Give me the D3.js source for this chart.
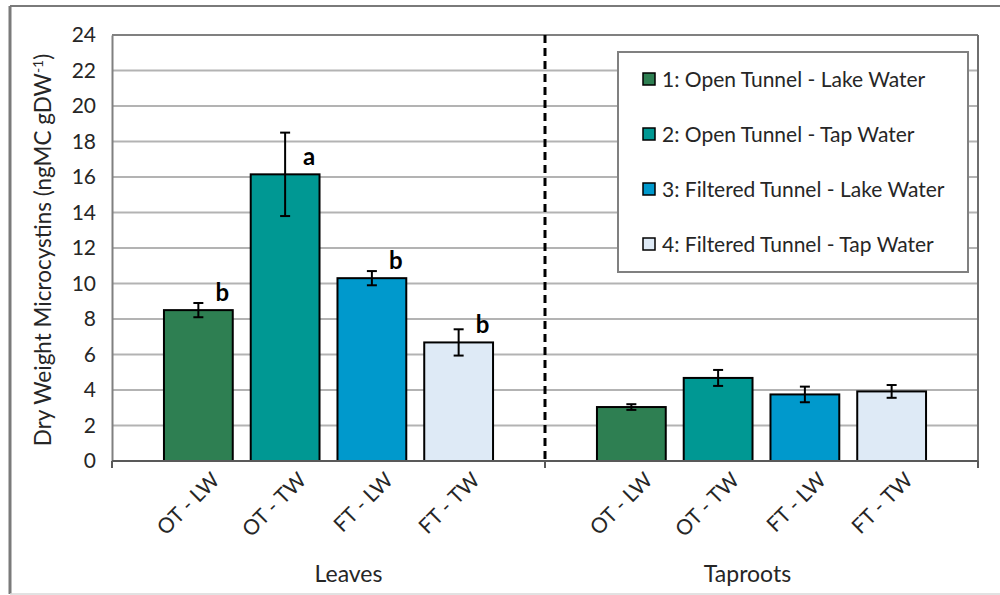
<!DOCTYPE html>
<html>
<head>
<meta charset="utf-8">
<script src="https://cdn.jsdelivr.net/npm/d3@7"></script>
<style>
  body { margin: 0; background: #fff; }
  svg { display: block; font-family: Lato, "Open Sans", sans-serif; }
</style>
</head>
<body>
<div id="chart"></div>
<script>
// --- Data ---
const categories = ["Leaves", "Taproots"];
const seriesNames = [
  "1: Open Tunnel - Lake Water",
  "2: Open Tunnel - Tap Water",
  "3: Filtered Tunnel - Lake Water",
  "4: Filtered Tunnel - Tap Water"
];
const tickLabels = ["OT - LW", "OT - TW", "FT - LW", "FT - TW"];
const leavesMeans = [8.5, 16.15, 10.3, 6.68];
const leavesErr = [0.4, 2.35, 0.4, 0.74];
const taprootMeans = [3.04, 4.68, 3.75, 3.92];
const taprootErr = [0.16, 0.45, 0.44, 0.36];
const leavesLetters = ["b", "a", "b", "b"];
const taprootLetters = ["", "", "", ""];
const yTicks = [0, 2, 4, 6, 8, 10, 12, 14, 16, 18, 20, 22, 24];
const colors = ["#2e7f52", "#009893", "#0099cc", "#deeaf6"];

const W = 1000, H = 595;
const margin = {top: 35, right: 22, bottom: 134, left: 112};

const svg = d3.select("#chart").append("svg")
    .attr("width", W).attr("height", H);

// outer frame
svg.append("line").attr("x1", 10).attr("x2", W).attr("y1", 6).attr("y2", 6)
    .attr("stroke", "#7a7a7a").attr("stroke-width", 2);
svg.append("line").attr("x1", 10).attr("x2", 10).attr("y1", 6).attr("y2", 594)
    .attr("stroke", "#7a7a7a").attr("stroke-width", 3);
svg.append("line").attr("x1", 10).attr("x2", W).attr("y1", 594).attr("y2", 594)
    .attr("stroke", "#d9d9d9").attr("stroke-width", 1.5);

const innerW = W - margin.left - margin.right;
const innerH = H - margin.top - margin.bottom;

const g = svg.append("g").attr("transform", `translate(${margin.left},${margin.top})`);

const y = d3.scaleLinear().domain([0, 24]).range([innerH, 0]);
const x0 = d3.scaleBand().domain(categories).range([0, innerW]).padding(0);
const groupPad = x0.bandwidth() * 0.12;
const x1 = d3.scaleBand().domain(d3.range(4)).range([groupPad, x0.bandwidth() - groupPad]).paddingInner(0.207);

// gridlines
g.append("g").selectAll("line").data(yTicks.filter(t => t > 0 && t < 24)).join("line")
    .attr("x1", 0).attr("x2", innerW)
    .attr("y1", d => y(d)).attr("y2", d => y(d))
    .attr("stroke", "#b3b3b3").attr("stroke-width", 2);

// top and right border of plot area
g.append("line").attr("x1", 0).attr("x2", innerW).attr("y1", y(24)).attr("y2", y(24))
    .attr("stroke", "#808080").attr("stroke-width", 2);
g.append("line").attr("x1", innerW).attr("x2", innerW).attr("y1", y(24)).attr("y2", innerH)
    .attr("stroke", "#6e6e6e").attr("stroke-width", 2);

// y axis
const yAxis = g.append("g").call(d3.axisLeft(y).tickValues(yTicks).tickSize(0).tickPadding(16));
yAxis.select(".domain").attr("stroke", "#808080").attr("stroke-width", 2);
yAxis.selectAll("text").attr("font-size", 21).attr("fill", "#262626")
    .attr("font-family", "Lato, sans-serif");

// dashed separator between groups
g.append("line")
    .attr("x1", x0("Taproots")).attr("x2", x0("Taproots"))
    .attr("y1", y(24)).attr("y2", innerH)
    .attr("stroke", "#000").attr("stroke-width", 3)
    .attr("stroke-dasharray", "8,5");

const groups = [
  {cat: "Leaves", means: leavesMeans, errs: leavesErr, letters: leavesLetters},
  {cat: "Taproots", means: taprootMeans, errs: taprootErr, letters: taprootLetters}
];

groups.forEach(grp => {
  const gg = g.append("g").attr("transform", `translate(${x0(grp.cat)},0)`);
  const rows = grp.means.map((m, i) => ({i, m, e: grp.errs[i], letter: grp.letters[i]}));

  gg.selectAll("rect.bar").data(rows).join("rect")
      .attr("class", "bar")
      .attr("x", d => x1(d.i)).attr("width", x1.bandwidth())
      .attr("y", d => y(d.m)).attr("height", d => innerH - y(d.m))
      .attr("fill", d => colors[d.i])
      .attr("stroke", "#000").attr("stroke-width", 2);

  // error bars
  const cap = 5;
  const eb = gg.selectAll("g.err").data(rows).join("g").attr("class", "err")
      .attr("transform", d => `translate(${x1(d.i) + x1.bandwidth() / 2},0)`);
  eb.append("line").attr("y1", d => y(d.m + d.e)).attr("y2", d => y(d.m - d.e))
      .attr("stroke", "#000").attr("stroke-width", 2);
  eb.append("line").attr("x1", -cap).attr("x2", cap)
      .attr("y1", d => y(d.m + d.e)).attr("y2", d => y(d.m + d.e))
      .attr("stroke", "#000").attr("stroke-width", 2);
  eb.append("line").attr("x1", -cap).attr("x2", cap)
      .attr("y1", d => y(d.m - d.e)).attr("y2", d => y(d.m - d.e))
      .attr("stroke", "#000").attr("stroke-width", 2);

  // significance letters
  gg.selectAll("text.letter").data(rows.filter(d => d.letter)).join("text")
      .attr("class", "letter")
      .attr("x", d => x1(d.i) + x1.bandwidth() / 2 + 24)
      .attr("y", d => y(d.m) - 9)
      .attr("text-anchor", "middle")
      .attr("font-size", 24).attr("font-weight", "bold").attr("fill", "#000")
      .text(d => d.letter);

  // rotated bar labels
  gg.selectAll("text.tick").data(rows).join("text")
      .attr("class", "tick")
      .attr("text-anchor", "end")
      .attr("transform", d => `translate(${x1(d.i) + x1.bandwidth() / 2 + 12},${innerH + 10}) rotate(-45)`)
      .attr("dy", "0.7em")
      .attr("font-size", 21).attr("fill", "#262626")
      .text(d => tickLabels[d.i]);
});

// bottom axis with ticks only at group boundaries
g.append("line").attr("x1", 0).attr("x2", innerW).attr("y1", innerH).attr("y2", innerH)
    .attr("stroke", "#595959").attr("stroke-width", 2);
g.selectAll("line.xt").data([0, x0("Taproots"), innerW]).join("line")
    .attr("class", "xt")
    .attr("x1", d => d).attr("x2", d => d)
    .attr("y1", innerH).attr("y2", innerH + 7)
    .attr("stroke", "#595959").attr("stroke-width", 2);

// category labels
const catOffset = [20, -14];
g.selectAll("text.cat").data(categories).join("text")
    .attr("class", "cat")
    .attr("x", (d, i) => x0(d) + x0.bandwidth() / 2 + catOffset[i])
    .attr("y", innerH + 121)
    .attr("text-anchor", "middle")
    .attr("font-size", 23).attr("fill", "#262626")
    .text(d => d);

// y axis title
svg.append("text")
    .attr("transform", `translate(51,${margin.top + innerH / 2 + 2}) rotate(-90)`)
    .attr("text-anchor", "middle")
    .attr("font-size", 22.5).attr("fill", "#262626")
    .html('Dry Weight Microcystins (ngMC gDW<tspan baseline-shift="super" font-size="14">-1</tspan>)');

// legend
const lg = svg.append("g").attr("transform", "translate(618,52)");
lg.append("rect").attr("width", 350).attr("height", 220)
    .attr("fill", "#fff").attr("stroke", "#808080").attr("stroke-width", 2);
const li = lg.selectAll("g.item").data(seriesNames).join("g")
    .attr("class", "item")
    .attr("transform", (d, i) => `translate(25,${27 + i * 55})`);
li.append("rect").attr("x", 0).attr("y", -6).attr("width", 12).attr("height", 12)
    .attr("fill", (d, i) => colors[i]).attr("stroke", "#000").attr("stroke-width", 1.5);
li.append("text").attr("x", 19).attr("dy", "0.36em")
    .attr("font-size", 21).attr("fill", "#262626")
    .text(d => d);
</script>
</body>
</html>
